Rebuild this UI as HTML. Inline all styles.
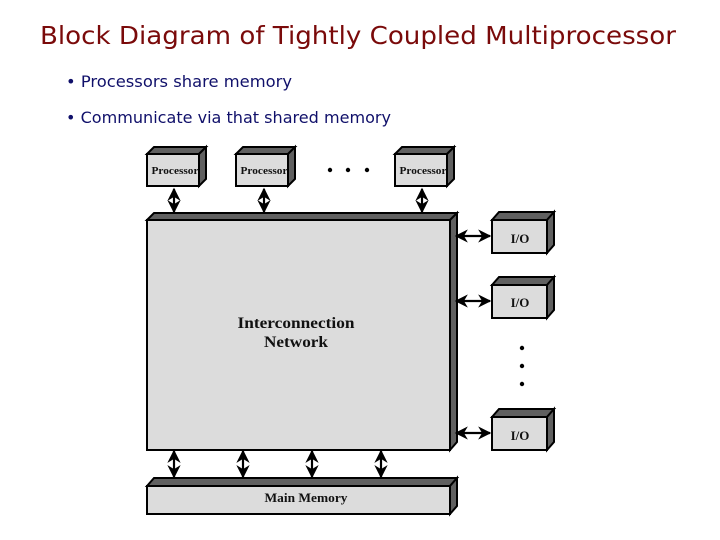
<!DOCTYPE html>
<html><head><meta charset="utf-8"><style>html,body{margin:0;padding:0;background:#fff}svg{display:block}</style></head>
<body>
<svg width="720" height="540" viewBox="0 0 720 540" xmlns="http://www.w3.org/2000/svg">
<defs>
<marker id="ah" viewBox="0 0 10 10" refX="9" refY="5" markerWidth="6" markerHeight="6" orient="auto-start-reverse"><path d="M0,0 L10,5 L0,10 L3,5 z" fill="#000"/></marker>
</defs>
<text x="40" y="44" font-family="'DejaVu Sans','Liberation Sans',sans-serif" font-size="25" fill="#7a0a0a" textLength="636" lengthAdjust="spacingAndGlyphs">Block Diagram of Tightly Coupled Multiprocessor</text>
<g font-family="'DejaVu Sans','Liberation Sans',sans-serif" font-size="16" fill="#10106a">
<text x="66" y="87" textLength="226" lengthAdjust="spacingAndGlyphs">• Processors share memory</text>
<text x="66" y="123" textLength="325" lengthAdjust="spacingAndGlyphs">• Communicate via that shared memory</text>
</g>
<g stroke="#000" stroke-width="2" stroke-linejoin="miter">
<g id="p">
<polygon points="147,154 154,147 206,147 199,154" fill="#606060"/>
<polygon points="199,154 206,147 206,179 199,186" fill="#606060"/>
<rect x="147" y="154" width="52" height="32" fill="#dcdcdc"/>
</g>
<use href="#p" transform="translate(89,0)"/>
<use href="#p" transform="translate(248,0)"/>
<polygon points="147,220 154,213 457,213 450,220" fill="#606060"/>
<polygon points="450,220 457,213 457,442 450,450" fill="#606060"/>
<rect x="147" y="220" width="303" height="230" fill="#dcdcdc"/>
<polygon points="147,486 154,478 457,478 450,486" fill="#606060"/>
<polygon points="450,486 457,478 457,506 450,514" fill="#606060"/>
<rect x="147" y="486" width="303" height="28" fill="#dcdcdc"/>
<g id="io">
<polygon points="492,220 499,212 554,212 547,220" fill="#606060"/>
<polygon points="547,220 554,212 554,245 547,253" fill="#606060"/>
<rect x="492" y="220" width="55" height="33" fill="#dcdcdc"/>
</g>
<use href="#io" transform="translate(0,65)"/>
<use href="#io" transform="translate(0,197)"/>
</g>
<g stroke="#000" stroke-width="2.2" marker-start="url(#ah)" marker-end="url(#ah)">
<line x1="174" y1="189" x2="174" y2="212"/>
<line x1="264" y1="189" x2="264" y2="212"/>
<line x1="422" y1="189" x2="422" y2="212"/>
<line x1="174" y1="451" x2="174" y2="477"/>
<line x1="243" y1="451" x2="243" y2="477"/>
<line x1="312" y1="451" x2="312" y2="477"/>
<line x1="381" y1="451" x2="381" y2="477"/>
<line x1="456" y1="236" x2="490" y2="236"/>
<line x1="456" y1="301" x2="490" y2="301"/>
<line x1="456" y1="433" x2="490" y2="433"/>
</g>
<g fill="#000">
<circle cx="330" cy="170" r="2.2"/><circle cx="348" cy="170" r="2.2"/><circle cx="367" cy="170" r="2.2"/>
<circle cx="522" cy="348" r="2.2"/><circle cx="522" cy="366" r="2.2"/><circle cx="522" cy="384" r="2.2"/>
</g>
<g font-family="'Liberation Serif',serif" font-weight="bold" fill="#111" text-anchor="middle">
<text x="175" y="174" font-size="11" textLength="47" lengthAdjust="spacingAndGlyphs">Processor</text>
<text x="264" y="174" font-size="11" textLength="47" lengthAdjust="spacingAndGlyphs">Processor</text>
<text x="423" y="174" font-size="11" textLength="47" lengthAdjust="spacingAndGlyphs">Processor</text>
<text x="520" y="243" font-size="13">I/O</text>
<text x="520" y="307" font-size="13">I/O</text>
<text x="520" y="440" font-size="13">I/O</text>
<text x="296" y="328" font-size="16" textLength="117" lengthAdjust="spacingAndGlyphs">Interconnection</text>
<text x="296" y="347" font-size="16" textLength="64" lengthAdjust="spacingAndGlyphs">Network</text>
<text x="306" y="502" font-size="13" textLength="83" lengthAdjust="spacingAndGlyphs">Main Memory</text>
</g>
</svg>
</body></html>
